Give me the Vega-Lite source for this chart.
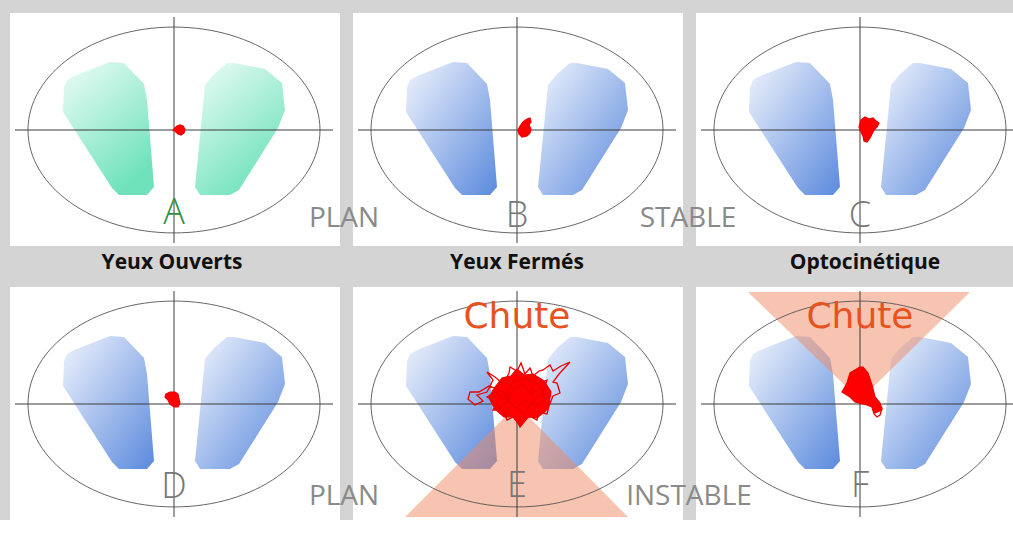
{
"$schema": "https://vega.github.io/schema/vega-lite/v6.json",
"background": "#d4d4d4",
"padding": {"left": 10, "top": 13, "right": 0, "bottom": 0},
"bounds": "flush",
"data": {"values": [
{"k":"ell","x":0,"y":0,"p":["A","B","C","D","E","F"]},
{"k":"rule","x":-159,"x2":159,"y":0,"y2":0,"p":["A","B","C","D","E","F"]},
{"k":"rule","x":0,"x2":0,"y":-113,"y2":113,"p":["A","B","C","D","E","F"]},
{"k":"foot","s":"L","i":0,"x":-110,"y":43,"p":["A","B","C","D","E","F"]},
{"k":"foot","s":"L","i":1,"x":-107,"y":50,"p":["A","B","C","D","E","F"]},
{"k":"foot","s":"L","i":2,"x":-100,"y":54,"p":["A","B","C","D","E","F"]},
{"k":"foot","s":"L","i":3,"x":-64,"y":68,"p":["A","B","C","D","E","F"]},
{"k":"foot","s":"L","i":4,"x":-50,"y":67,"p":["A","B","C","D","E","F"]},
{"k":"foot","s":"L","i":5,"x":-30,"y":46,"p":["A","B","C","D","E","F"]},
{"k":"foot","s":"L","i":6,"x":-27,"y":30,"p":["A","B","C","D","E","F"]},
{"k":"foot","s":"L","i":7,"x":-20,"y":-57,"p":["A","B","C","D","E","F"]},
{"k":"foot","s":"L","i":8,"x":-27,"y":-65,"p":["A","B","C","D","E","F"]},
{"k":"foot","s":"L","i":9,"x":-55,"y":-65,"p":["A","B","C","D","E","F"]},
{"k":"foot","s":"L","i":10,"x":-62,"y":-58,"p":["A","B","C","D","E","F"]},
{"k":"foot","s":"L","i":11,"x":-111,"y":18,"p":["A","B","C","D","E","F"]},
{"k":"foot","s":"R","i":0,"x":31,"y":45,"p":["A","B","C","D","E","F"]},
{"k":"foot","s":"R","i":1,"x":40,"y":56,"p":["A","B","C","D","E","F"]},
{"k":"foot","s":"R","i":2,"x":53,"y":67,"p":["A","B","C","D","E","F"]},
{"k":"foot","s":"R","i":3,"x":60,"y":67,"p":["A","B","C","D","E","F"]},
{"k":"foot","s":"R","i":4,"x":91,"y":61,"p":["A","B","C","D","E","F"]},
{"k":"foot","s":"R","i":5,"x":108,"y":47,"p":["A","B","C","D","E","F"]},
{"k":"foot","s":"R","i":6,"x":111,"y":20,"p":["A","B","C","D","E","F"]},
{"k":"foot","s":"R","i":7,"x":104,"y":2,"p":["A","B","C","D","E","F"]},
{"k":"foot","s":"R","i":8,"x":65,"y":-60,"p":["A","B","C","D","E","F"]},
{"k":"foot","s":"R","i":9,"x":56,"y":-65,"p":["A","B","C","D","E","F"]},
{"k":"foot","s":"R","i":10,"x":26,"y":-65,"p":["A","B","C","D","E","F"]},
{"k":"foot","s":"R","i":11,"x":21,"y":-57,"p":["A","B","C","D","E","F"]},
{"k":"wedge","s":"E","i":0,"x":0,"y":-1,"p":["E"]},
{"k":"wedge","s":"E","i":1,"x":-112,"y":-113,"p":["E"]},
{"k":"wedge","s":"E","i":2,"x":111,"y":-113,"p":["E"]},
{"k":"wedge","s":"F","i":0,"x":0,"y":4,"p":["F"]},
{"k":"wedge","s":"F","i":1,"x":-112,"y":112,"p":["F"]},
{"k":"wedge","s":"F","i":2,"x":110,"y":112,"p":["F"]},
{"k":"blob","s":"A","i":0,"x":1,"y":2,"p":["A"]},
{"k":"blob","s":"A","i":1,"x":3,"y":4,"p":["A"]},
{"k":"blob","s":"A","i":2,"x":6,"y":5,"p":["A"]},
{"k":"blob","s":"A","i":3,"x":9,"y":4,"p":["A"]},
{"k":"blob","s":"A","i":4,"x":11,"y":1,"p":["A"]},
{"k":"blob","s":"A","i":5,"x":10,"y":-3,"p":["A"]},
{"k":"blob","s":"A","i":6,"x":7,"y":-5,"p":["A"]},
{"k":"blob","s":"A","i":7,"x":4,"y":-4,"p":["A"]},
{"k":"blob","s":"A","i":8,"x":2,"y":-2,"p":["A"]},
{"k":"blob","s":"A","i":9,"x":-1,"y":0,"p":["A"]},
{"k":"blob","s":"B","i":0,"x":3,"y":4,"p":["B"]},
{"k":"blob","s":"B","i":1,"x":6,"y":8,"p":["B"]},
{"k":"blob","s":"B","i":2,"x":10,"y":11,"p":["B"]},
{"k":"blob","s":"B","i":3,"x":13,"y":12,"p":["B"]},
{"k":"blob","s":"B","i":4,"x":14,"y":8,"p":["B"]},
{"k":"blob","s":"B","i":5,"x":12,"y":5,"p":["B"]},
{"k":"blob","s":"B","i":6,"x":14,"y":1,"p":["B"]},
{"k":"blob","s":"B","i":7,"x":13,"y":-3,"p":["B"]},
{"k":"blob","s":"B","i":8,"x":10,"y":-6,"p":["B"]},
{"k":"blob","s":"B","i":9,"x":5,"y":-7,"p":["B"]},
{"k":"blob","s":"B","i":10,"x":2,"y":-4,"p":["B"]},
{"k":"blob","s":"B","i":11,"x":1,"y":0,"p":["B"]},
{"k":"blob","s":"C","i":0,"x":1,"y":10,"p":["C"]},
{"k":"blob","s":"C","i":1,"x":5,"y":13,"p":["C"]},
{"k":"blob","s":"C","i":2,"x":9,"y":11,"p":["C"]},
{"k":"blob","s":"C","i":3,"x":13,"y":12,"p":["C"]},
{"k":"blob","s":"C","i":4,"x":16,"y":9,"p":["C"]},
{"k":"blob","s":"C","i":5,"x":19,"y":7,"p":["C"]},
{"k":"blob","s":"C","i":6,"x":17,"y":3,"p":["C"]},
{"k":"blob","s":"C","i":7,"x":14,"y":0,"p":["C"]},
{"k":"blob","s":"C","i":8,"x":12,"y":-4,"p":["C"]},
{"k":"blob","s":"C","i":9,"x":10,"y":-8,"p":["C"]},
{"k":"blob","s":"C","i":10,"x":7,"y":-12,"p":["C"]},
{"k":"blob","s":"C","i":11,"x":4,"y":-11,"p":["C"]},
{"k":"blob","s":"C","i":12,"x":3,"y":-6,"p":["C"]},
{"k":"blob","s":"C","i":13,"x":1,"y":-2,"p":["C"]},
{"k":"blob","s":"C","i":14,"x":-1,"y":3,"p":["C"]},
{"k":"blob","s":"D","i":0,"x":-8,"y":10,"p":["D"]},
{"k":"blob","s":"D","i":1,"x":-4,"y":12,"p":["D"]},
{"k":"blob","s":"D","i":2,"x":1,"y":12,"p":["D"]},
{"k":"blob","s":"D","i":3,"x":4,"y":10,"p":["D"]},
{"k":"blob","s":"D","i":4,"x":5,"y":5,"p":["D"]},
{"k":"blob","s":"D","i":5,"x":6,"y":1,"p":["D"]},
{"k":"blob","s":"D","i":6,"x":4,"y":-3,"p":["D"]},
{"k":"blob","s":"D","i":7,"x":0,"y":-3,"p":["D"]},
{"k":"blob","s":"D","i":8,"x":-4,"y":0,"p":["D"]},
{"k":"blob","s":"D","i":9,"x":-6,"y":4,"p":["D"]},
{"k":"blob","s":"D","i":10,"x":-9,"y":7,"p":["D"]},
{"k":"blob","s":"E","i":0,"x":-24,"y":14,"p":["E"]},
{"k":"blob","s":"E","i":1,"x":-15,"y":26,"p":["E"]},
{"k":"blob","s":"E","i":2,"x":-6,"y":28,"p":["E"]},
{"k":"blob","s":"E","i":3,"x":0,"y":35,"p":["E"]},
{"k":"blob","s":"E","i":4,"x":7,"y":29,"p":["E"]},
{"k":"blob","s":"E","i":5,"x":16,"y":30,"p":["E"]},
{"k":"blob","s":"E","i":6,"x":27,"y":23,"p":["E"]},
{"k":"blob","s":"E","i":7,"x":34,"y":12,"p":["E"]},
{"k":"blob","s":"E","i":8,"x":31,"y":-5,"p":["E"]},
{"k":"blob","s":"E","i":9,"x":20,"y":-14,"p":["E"]},
{"k":"blob","s":"E","i":10,"x":10,"y":-13,"p":["E"]},
{"k":"blob","s":"E","i":11,"x":3,"y":-22,"p":["E"]},
{"k":"blob","s":"E","i":12,"x":-4,"y":-13,"p":["E"]},
{"k":"blob","s":"E","i":13,"x":-13,"y":-13,"p":["E"]},
{"k":"blob","s":"E","i":14,"x":-22,"y":-5,"p":["E"]},
{"k":"blob","s":"E","i":15,"x":-28,"y":6,"p":["E"]},
{"k":"blob","s":"F","i":0,"x":0,"y":37,"p":["F"]},
{"k":"blob","s":"F","i":1,"x":-10,"y":31,"p":["F"]},
{"k":"blob","s":"F","i":2,"x":-13,"y":21,"p":["F"]},
{"k":"blob","s":"F","i":3,"x":-18,"y":12,"p":["F"]},
{"k":"blob","s":"F","i":4,"x":-10,"y":7,"p":["F"]},
{"k":"blob","s":"F","i":5,"x":-5,"y":2,"p":["F"]},
{"k":"blob","s":"F","i":6,"x":7,"y":-1,"p":["F"]},
{"k":"blob","s":"F","i":7,"x":12,"y":-3,"p":["F"]},
{"k":"blob","s":"F","i":8,"x":15,"y":-9,"p":["F"]},
{"k":"blob","s":"F","i":9,"x":22,"y":-6,"p":["F"]},
{"k":"blob","s":"F","i":10,"x":20,"y":1,"p":["F"]},
{"k":"blob","s":"F","i":11,"x":15,"y":7,"p":["F"]},
{"k":"blob","s":"F","i":12,"x":12,"y":19,"p":["F"]},
{"k":"blob","s":"F","i":13,"x":8,"y":31,"p":["F"]},
{"k":"blob","s":"F","i":14,"x":3,"y":37,"p":["F"]},
{"k":"scr","s":"E","i":0,"x":-5,"y":8,"p":["E"]},
{"k":"scr","s":"E","i":1,"x":-18,"y":14,"p":["E"]},
{"k":"scr","s":"E","i":2,"x":-28,"y":18,"p":["E"]},
{"k":"scr","s":"E","i":3,"x":-38,"y":12,"p":["E"]},
{"k":"scr","s":"E","i":4,"x":-47,"y":12,"p":["E"]},
{"k":"scr","s":"E","i":5,"x":-49,"y":5,"p":["E"]},
{"k":"scr","s":"E","i":6,"x":-42,"y":-1,"p":["E"]},
{"k":"scr","s":"E","i":7,"x":-34,"y":3,"p":["E"]},
{"k":"scr","s":"E","i":8,"x":-40,"y":9,"p":["E"]},
{"k":"scr","s":"E","i":9,"x":-30,"y":12,"p":["E"]},
{"k":"scr","s":"E","i":10,"x":-24,"y":24,"p":["E"]},
{"k":"scr","s":"E","i":11,"x":-30,"y":32,"p":["E"]},
{"k":"scr","s":"E","i":12,"x":-22,"y":27,"p":["E"]},
{"k":"scr","s":"E","i":13,"x":-14,"y":20,"p":["E"]},
{"k":"scr","s":"E","i":14,"x":-8,"y":31,"p":["E"]},
{"k":"scr","s":"E","i":15,"x":-7,"y":37,"p":["E"]},
{"k":"scr","s":"E","i":16,"x":0,"y":33,"p":["E"]},
{"k":"scr","s":"E","i":17,"x":4,"y":41,"p":["E"]},
{"k":"scr","s":"E","i":18,"x":8,"y":30,"p":["E"]},
{"k":"scr","s":"E","i":19,"x":13,"y":36,"p":["E"]},
{"k":"scr","s":"E","i":20,"x":16,"y":28,"p":["E"]},
{"k":"scr","s":"E","i":21,"x":22,"y":33,"p":["E"]},
{"k":"scr","s":"E","i":22,"x":26,"y":34,"p":["E"]},
{"k":"scr","s":"E","i":23,"x":33,"y":39,"p":["E"]},
{"k":"scr","s":"E","i":24,"x":36,"y":33,"p":["E"]},
{"k":"scr","s":"E","i":25,"x":44,"y":38,"p":["E"]},
{"k":"scr","s":"E","i":26,"x":53,"y":42,"p":["E"]},
{"k":"scr","s":"E","i":27,"x":42,"y":30,"p":["E"]},
{"k":"scr","s":"E","i":28,"x":36,"y":22,"p":["E"]},
{"k":"scr","s":"E","i":29,"x":40,"y":21,"p":["E"]},
{"k":"scr","s":"E","i":30,"x":43,"y":11,"p":["E"]},
{"k":"scr","s":"E","i":31,"x":36,"y":8,"p":["E"]},
{"k":"scr","s":"E","i":32,"x":32,"y":-2,"p":["E"]},
{"k":"scr","s":"E","i":33,"x":30,"y":-10,"p":["E"]},
{"k":"scr","s":"E","i":34,"x":22,"y":-8,"p":["E"]},
{"k":"scr","s":"E","i":35,"x":20,"y":-16,"p":["E"]},
{"k":"scr","s":"E","i":36,"x":12,"y":-12,"p":["E"]},
{"k":"scr","s":"E","i":37,"x":3,"y":-23,"p":["E"]},
{"k":"scr","s":"E","i":38,"x":-2,"y":-12,"p":["E"]},
{"k":"scr","s":"E","i":39,"x":-10,"y":-16,"p":["E"]},
{"k":"scr","s":"E","i":40,"x":-14,"y":-6,"p":["E"]},
{"k":"scr","s":"E","i":41,"x":-24,"y":-6,"p":["E"]},
{"k":"scr","s":"E","i":42,"x":-20,"y":2,"p":["E"]},
{"k":"scr","s":"E","i":43,"x":-30,"y":7,"p":["E"]},
{"k":"scr","s":"E","i":44,"x":-22,"y":12,"p":["E"]},
{"k":"scr","s":"E","i":45,"x":-12,"y":4,"p":["E"]},
{"k":"scr","s":"E","i":46,"x":-4,"y":14,"p":["E"]},
{"k":"scr","s":"E","i":47,"x":6,"y":20,"p":["E"]},
{"k":"scr","s":"E","i":48,"x":14,"y":10,"p":["E"]},
{"k":"scr","s":"E","i":49,"x":24,"y":16,"p":["E"]},
{"k":"scr","s":"E","i":50,"x":28,"y":4,"p":["E"]},
{"k":"scr","s":"E","i":51,"x":18,"y":-2,"p":["E"]},
{"k":"scr","s":"E","i":52,"x":8,"y":4,"p":["E"]},
{"k":"scr","s":"E","i":53,"x":-2,"y":-4,"p":["E"]},
{"k":"scr","s":"E","i":54,"x":-12,"y":8,"p":["E"]},
{"k":"scr","s":"E","i":55,"x":-4,"y":22,"p":["E"]},
{"k":"scr","s":"E","i":56,"x":10,"y":26,"p":["E"]},
{"k":"scr","s":"E","i":57,"x":20,"y":20,"p":["E"]},
{"k":"scr","s":"E","i":58,"x":30,"y":24,"p":["E"]},
{"k":"scr","s":"E","i":59,"x":26,"y":12,"p":["E"]},
{"k":"scr","s":"E","i":60,"x":14,"y":0,"p":["E"]},
{"k":"scr","s":"E","i":61,"x":6,"y":-10,"p":["E"]},
{"k":"scr","s":"E","i":62,"x":-6,"y":0,"p":["E"]},
{"k":"scr","s":"E","i":63,"x":-16,"y":14,"p":["E"]},
{"k":"scr","s":"E","i":64,"x":-26,"y":4,"p":["E"]},
{"k":"scr","s":"E","i":65,"x":-18,"y":-4,"p":["E"]},
{"k":"scr","s":"E","i":66,"x":-6,"y":6,"p":["E"]},
{"k":"scr","s":"F","i":0,"x":12,"y":-3,"p":["F"]},
{"k":"scr","s":"F","i":1,"x":14,"y":-10,"p":["F"]},
{"k":"scr","s":"F","i":2,"x":17,"y":-13,"p":["F"]},
{"k":"scr","s":"F","i":3,"x":20,"y":-11,"p":["F"]},
{"k":"scr","s":"F","i":4,"x":22,"y":-4,"p":["F"]},
{"k":"scr","s":"F","i":5,"x":19,"y":0,"p":["F"]},
{"k":"let","t":"A","x":0,"y":-94,"p":["A"]},
{"k":"let","t":"B","x":0,"y":-97,"p":["B"]},
{"k":"let","t":"C","x":0,"y":-97,"p":["C"]},
{"k":"let","t":"D","x":0,"y":-94,"p":["D"]},
{"k":"let","t":"E","x":0,"y":-93,"p":["E"]},
{"k":"let","t":"F","x":0,"y":-93,"p":["F"]},
{"k":"side","t":"PLAN","x":-173,"y":-97,"p":["B"]},
{"k":"side","t":"STABLE","x":-172,"y":-97,"p":["C"]},
{"k":"side","t":"PLAN","x":-173,"y":-101,"p":["E"]},
{"k":"side","t":"INSTABLE","x":-171,"y":-101,"p":["F"]},
{"k":"chute","t":"Chute","x":0,"y":76,"p":["E"]},
{"k":"chute","t":"Chute","x":0,"y":76,"p":["F"]},
{"k":"lab","t":"Yeux Ouverts","x":-2,"y":135,"p":["D"]},
{"k":"lab","t":"Yeux Fermés","x":0,"y":135,"p":["E"]},
{"k":"lab","t":"Optocinétique","x":5,"y":135,"p":["F"]}
]},
"transform": [
  {"flatten": ["p"]},
  {"lookup": "p", "from": {"data": {"values": [
    {"p":"A","r":1,"c":1},{"p":"B","r":1,"c":2},{"p":"C","r":1,"c":3},
    {"p":"D","r":2,"c":1},{"p":"E","r":2,"c":2},{"p":"F","r":2,"c":3}]}, "key": "p", "fields": ["r", "c"]}}
],
"facet": {
  "row": {"field": "r", "type": "ordinal", "header": null},
  "column": {"field": "c", "type": "ordinal", "header": null}
},
"spacing": {"row": 41, "column": 13},
"spec": {
  "width": 330,
  "height": 233,
  "encoding": {
    "x": {"field": "x", "type": "quantitative", "scale": {"domain": [-164, 166], "nice": false, "zero": false}, "axis": null},
    "y": {"field": "y", "type": "quantitative", "scale": {"domain": [-116, 117], "nice": false, "zero": false}, "axis": null}
  },
  "layer": [
    {"transform": [{"filter": "datum.k === 'foot' && datum.p === 'A'"}],
     "mark": {"type": "line", "interpolate": "linear-closed", "strokeWidth": 0,
              "fill": {"gradient": "linear", "x1": 0, "y1": 0, "x2": 0.6, "y2": 1, "stops": [{"offset": 0, "color": "#eefdf7"}, {"offset": 1, "color": "#6fe2bb"}]}},
     "encoding": {"order": {"field": "i", "type": "quantitative"}, "detail": {"field": "s"}}},
    {"transform": [{"filter": "datum.k === 'foot' && datum.p !== 'A'"}],
     "mark": {"type": "line", "interpolate": "linear-closed", "strokeWidth": 0,
              "fill": {"gradient": "linear", "x1": 0, "y1": 0, "x2": 1, "y2": 1, "stops": [{"offset": 0, "color": "#f0f4fd"}, {"offset": 1, "color": "#5b8add"}]}},
     "encoding": {"order": {"field": "i", "type": "quantitative"}, "detail": {"field": "s"}}},
    {"transform": [{"filter": "datum.k === 'wedge'"}],
     "mark": {"type": "line", "interpolate": "linear-closed", "strokeWidth": 0, "fill": "#ee8a64", "fillOpacity": 0.5},
     "encoding": {"order": {"field": "i", "type": "quantitative"}, "detail": {"field": "s"}}},
    {"transform": [{"filter": "datum.k === 'ell'"}],
     "mark": {"type": "point", "shape": "M-1,0A1,0.705,0,1,1,1,0A1,0.705,0,1,1,-1,0Z", "size": 85264, "filled": false, "stroke": "#555555", "strokeWidth": 0.9, "opacity": 1}},
    {"transform": [{"filter": "datum.k === 'rule'"}],
     "mark": {"type": "rule", "color": "#3c3c3c", "strokeWidth": 1},
     "encoding": {"x2": {"field": "x2"}, "y2": {"field": "y2"}}},
    {"transform": [{"filter": "datum.k === 'blob'"}],
     "mark": {"type": "line", "interpolate": "linear-closed", "fill": "#ff0000", "stroke": "#ee0000", "strokeWidth": 1.2},
     "encoding": {"order": {"field": "i", "type": "quantitative"}, "detail": {"field": "s"}}},
    {"transform": [{"filter": "datum.k === 'scr'"}],
     "mark": {"type": "line", "stroke": "#ee0000", "strokeWidth": 1.3},
     "encoding": {"order": {"field": "i", "type": "quantitative"}, "detail": {"field": "s"}}},
    {"transform": [{"filter": "datum.k === 'let'"}],
     "mark": {"type": "text", "font": "Open Sans", "fontWeight": 300, "fontSize": 36, "align": "center", "baseline": "alphabetic"},
     "encoding": {"text": {"field": "t"}, "color": {"condition": {"test": "datum.t === 'A'", "value": "#2e9141"}, "value": "#777777"}}},
    {"transform": [{"filter": "datum.k === 'side'"}],
     "mark": {"type": "text", "font": "Open Sans", "fontSize": 28, "color": "#8a8a8a", "align": "center", "baseline": "alphabetic"},
     "encoding": {"text": {"field": "t"}}},
    {"transform": [{"filter": "datum.k === 'chute'"}],
     "mark": {"type": "text", "font": "DejaVu Sans", "fontSize": 36, "color": "#e8521f", "align": "center", "baseline": "alphabetic"},
     "encoding": {"text": {"field": "t"}}},
    {"transform": [{"filter": "datum.k === 'lab'"}],
     "mark": {"type": "text", "font": "Open Sans", "fontWeight": "bold", "fontSize": 21, "color": "#111111", "align": "center", "baseline": "alphabetic"},
     "encoding": {"text": {"field": "t"}}}
  ]
},
"config": {"view": {"fill": "white", "stroke": null}}
}
